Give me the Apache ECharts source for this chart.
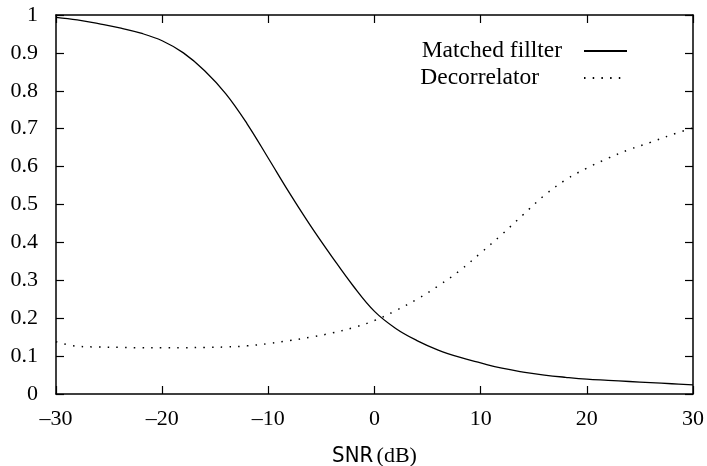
<!DOCTYPE html>
<html>
<head>
<meta charset="utf-8">
<script src="https://cdn.jsdelivr.net/npm/echarts@6/dist/echarts.min.js"></script>
<style>
html,body{margin:0;padding:0;background:#fff;}
#chart{width:707px;height:466px;}
</style>
</head>
<body>
<div id="chart"></div>
<script>
// SNR values (dB)
const snr = [-30, -28, -26, -24, -22, -20, -18, -16, -14, -12, -10, -8, -6, -4, -2, 0, 2, 4, 6, 8, 10, 12, 14, 16, 18, 20, 22, 24, 26, 28, 30];
const matchedFilter = [0.994, 0.987, 0.977, 0.966, 0.952, 0.932, 0.900, 0.853, 0.792, 0.713, 0.622, 0.530, 0.443, 0.362, 0.285, 0.218, 0.173, 0.141, 0.116, 0.097, 0.082, 0.068, 0.058, 0.050, 0.044, 0.039, 0.036, 0.033, 0.030, 0.027, 0.024];
const decorrelator = [0.138, 0.126, 0.124, 0.123, 0.122, 0.122, 0.122, 0.123, 0.124, 0.127, 0.133, 0.141, 0.150, 0.161, 0.175, 0.194, 0.220, 0.250, 0.285, 0.325, 0.372, 0.421, 0.473, 0.524, 0.565, 0.596, 0.622, 0.645, 0.664, 0.684, 0.702];
const seriesNames = ['Matched fillter', 'Decorrelator'];
const xTicks = [-30, -20, -10, 0, 10, 20, 30];
const yTickLabels = ['0', '0.1', '0.2', '0.3', '0.4', '0.5', '0.6', '0.7', '0.8', '0.9', '1'];

const serif = 'Liberation Serif';
const axisLine = {show: true, onZero: false, lineStyle: {color: '#000', width: 1.5}};
const axisTick = {show: true, inside: true, length: 8, lineStyle: {color: '#000', width: 1.2}};

const chart = echarts.init(document.getElementById('chart'), null, {renderer: 'canvas'});
chart.setOption({
  backgroundColor: '#fff',
  animation: false,
  grid: {left: 56, right: 14, top: 15, bottom: 72, containLabel: false, outerBoundsMode: 'none'},
  legend: {
    orient: 'vertical',
    align: 'right',
    right: 74,
    top: 34,
    itemWidth: 43,
    itemHeight: 14,
    itemGap: 3,
    data: seriesNames,
    itemStyle: {opacity: 0},
    formatter: function (name) {
      return name === seriesNames[0] ? '{a|' + name + '}' : '{b|' + name + '}';
    },
    textStyle: {
      fontFamily: serif, fontSize: 23.5, color: '#000',
      rich: {
        a: {fontFamily: serif, fontSize: 23.5, lineHeight: 20, color: '#000', padding: [0, 17, 0, 0]},
        b: {fontFamily: serif, fontSize: 23.5, lineHeight: 20, color: '#000', padding: [0, 40, 0, 0]}
      }
    }
  },
  xAxis: [{
    type: 'value', min: -30, max: 30, interval: 10, position: 'bottom',
    axisLine: axisLine, axisTick: axisTick, splitLine: {show: false},
    axisLabel: {
      margin: 14, fontFamily: serif, fontSize: 22, color: '#000',
      formatter: function (v) { return String(v).replace('-', '\u2013'); }
    },
    name: '{s|SNR} {d|(dB)}',
    nameLocation: 'middle',
    nameGap: 51,
    nameTextStyle: {
      rich: {
        s: {fontFamily: 'DejaVu Sans Condensed', fontSize: 22, color: '#000'},
        d: {fontFamily: serif, fontSize: 22, color: '#000'}
      }
    }
  }, {
    type: 'value', min: -30, max: 30, interval: 10, position: 'top',
    axisLine: axisLine, axisTick: axisTick, splitLine: {show: false},
    axisLabel: {show: false}
  }],
  yAxis: [{
    type: 'value', min: 0, max: 1, interval: 0.1, position: 'left',
    axisLine: axisLine, axisTick: axisTick, splitLine: {show: false},
    axisLabel: {
      margin: 18, fontFamily: serif, fontSize: 22, color: '#000',
      formatter: function (v) { return yTickLabels[Math.round(v * 10)]; }
    }
  }, {
    type: 'value', min: 0, max: 1, interval: 0.1, position: 'right',
    axisLine: axisLine, axisTick: axisTick, splitLine: {show: false},
    axisLabel: {show: false}
  }],
  series: [{
    name: seriesNames[0],
    type: 'line',
    smooth: 0.4,
    symbol: 'none',
    data: snr.map((x, i) => [x, matchedFilter[i]]),
    lineStyle: {color: '#000', width: 1.3, type: 'solid'},
    itemStyle: {color: '#000'}
  }, {
    name: seriesNames[1],
    type: 'line',
    smooth: 0.4,
    symbol: 'none',
    data: snr.map((x, i) => [x, decorrelator[i]]),
    lineStyle: {color: '#000', width: 1.5, type: [1.5, 7.2]},
    itemStyle: {color: '#000'}
  }]
});
</script>
</body>
</html>
